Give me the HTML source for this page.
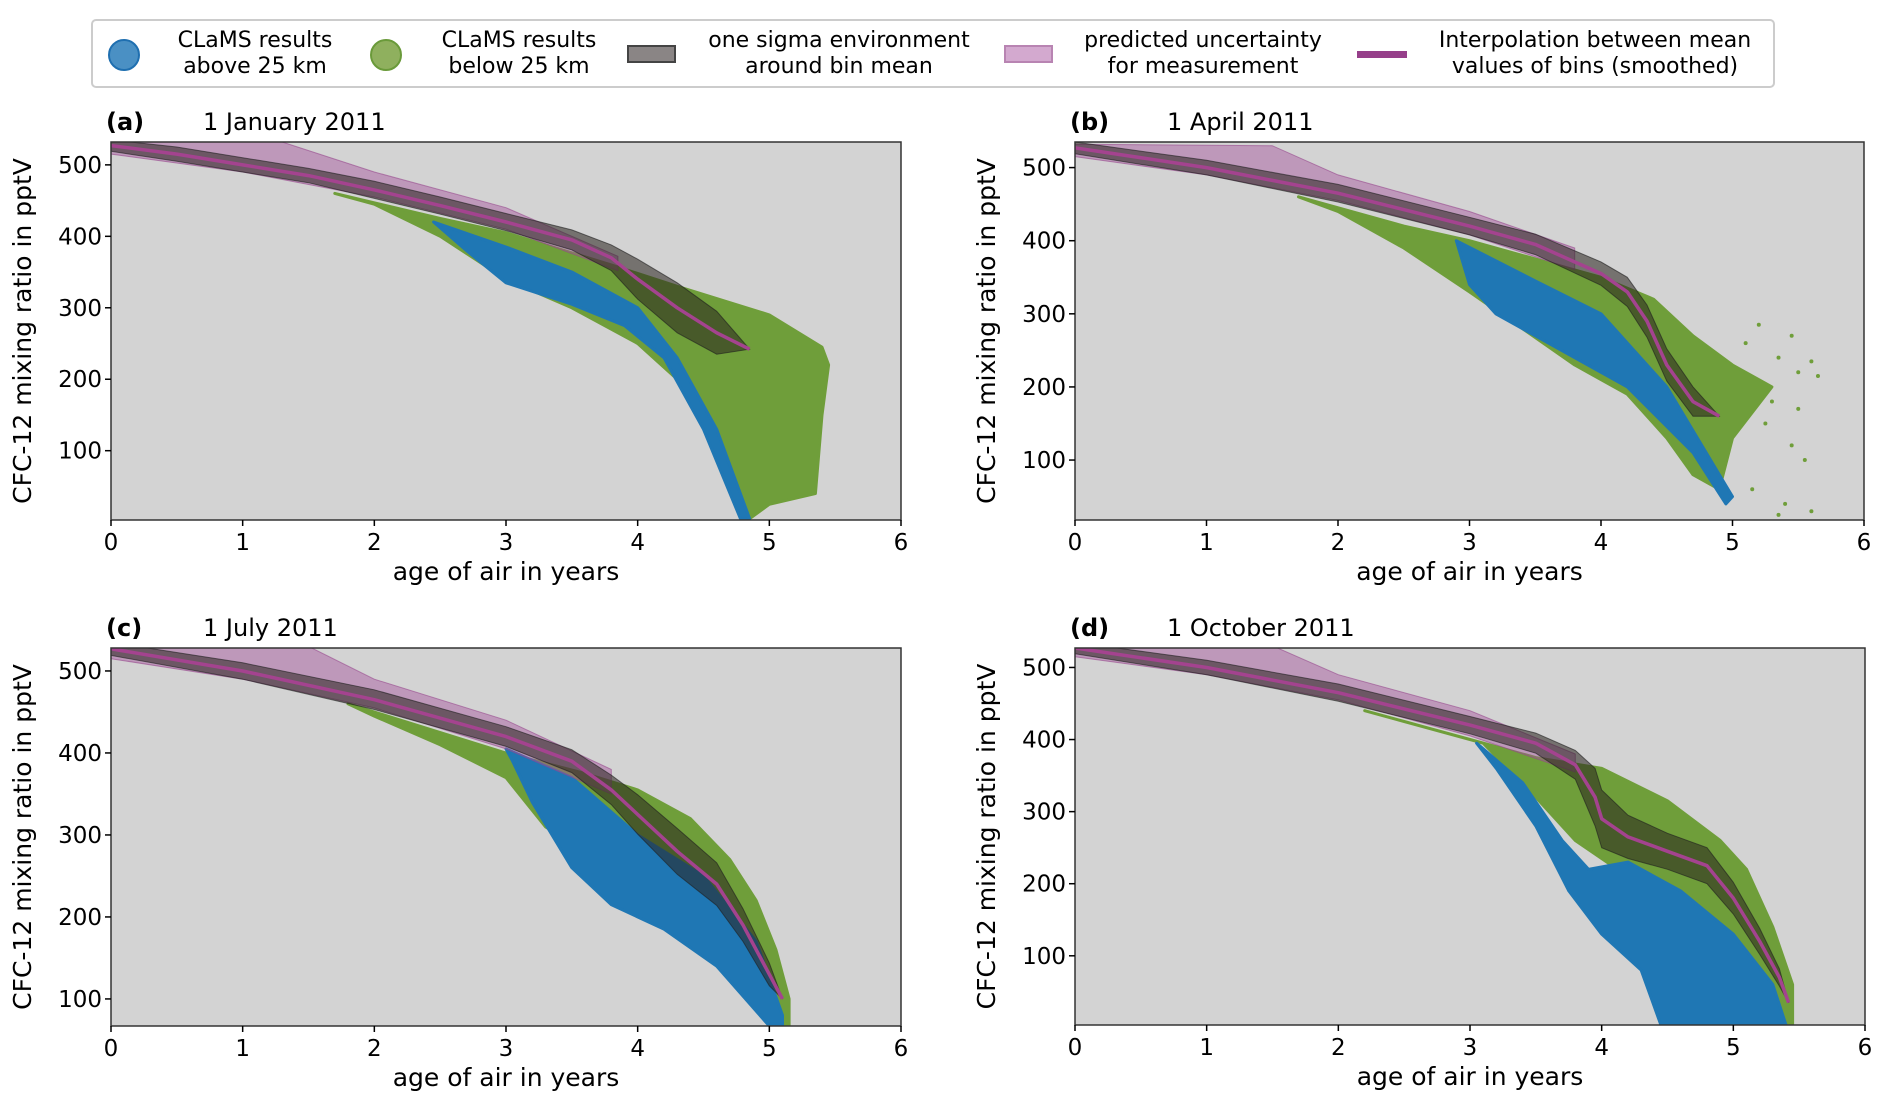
<!DOCTYPE html>
<html><head><meta charset="utf-8"><style>
html,body{margin:0;padding:0;background:#fff;}
svg{display:block;font-family:"DejaVu Sans","Liberation Sans",sans-serif;}
</style></head><body>
<svg id="fig" width="1892" height="1110" viewBox="0 0 1892 1110">
<g>
<rect x="92" y="20" width="1682" height="67" rx="4" fill="#fff" stroke="#ccc" stroke-width="2"/>
<g><circle cx="124" cy="55" r="15" fill="#4a90c4" stroke="#1f6fb0" stroke-width="2"/><text x="255" y="47" font-size="22" text-anchor="middle">CLaMS results</text><text x="255" y="73" font-size="22" text-anchor="middle">above 25 km</text></g>
<g><circle cx="386" cy="55" r="15" fill="#8fb05e" stroke="#6a9a3a" stroke-width="2"/><text x="519" y="47" font-size="22" text-anchor="middle">CLaMS results</text><text x="519" y="73" font-size="22" text-anchor="middle">below 25 km</text></g>
<g><rect x="628" y="46" width="47" height="16" fill="#8a8585" stroke="#444" stroke-width="2"/><text x="839" y="47" font-size="22" text-anchor="middle">one sigma environment</text><text x="839" y="73" font-size="22" text-anchor="middle">around bin mean</text></g>
<g><rect x="1005" y="46" width="47" height="16" fill="#d3a9cf" stroke="#b884b2" stroke-width="2"/><text x="1203" y="47" font-size="22" text-anchor="middle">predicted uncertainty</text><text x="1203" y="73" font-size="22" text-anchor="middle">for measurement</text></g>
<g><rect x="1357" y="51" width="50" height="7" fill="#963f8a"/><text x="1595" y="47" font-size="22" text-anchor="middle">Interpolation between mean</text><text x="1595" y="73" font-size="22" text-anchor="middle">values of bins (smoothed)</text></g>
</g>
</svg>
<script>
// ----- Panel (a) data -----
const aMeanAge=[0,0.5,1,1.5,2,2.5,3,3.5,3.8,4.0,4.3,4.6,4.85];
const aMeanVal=[527,515,500,485,465,443,420,395,370,340,300,265,242];
const aSigma=[8,10,10,10,12,12,12,14,18,28,35,30,0];
const aUncUpAge=[0,1.3,2,3,3.85];const aUncUpVal=[532,532,490,440,372];
const aUncLoAge=[0,1,2,3,3.85];const aUncLoVal=[515,490,455,410,352];
const aGreenAge=[1.7,2.5,3,3.8,4.3,5.0,5.4,5.45,5.4,5.35,5.0,4.85,4.8,4.6,4.3,4.0,3.5,3,2.5,2];
const aGreenVal=[460,425,405,360,330,290,245,220,150,40,25,5,5,100,200,250,300,340,400,445];
const aBlueAge=[2.45,3.0,3.5,4.0,4.3,4.6,4.85,4.78,4.5,4.2,3.9,3.5,3.0,2.7];
const aBlueVal=[420,385,350,300,230,130,5,5,130,230,275,305,335,380];
// ----- Panel (b) data -----
const bMeanAge=[0,1,2,3,3.5,4,4.2,4.35,4.5,4.7,4.9];
const bMeanVal=[527,500,465,420,395,355,330,290,230,180,160];
const bSigma=[8,10,12,12,14,16,20,22,22,20,0];
const bUncUpAge=[0,1.5,2,3,3.8];const bUncUpVal=[532,530,490,440,390];
const bUncLoAge=[0,1,2,3,3.8];const bUncLoVal=[515,490,455,408,360];
const bGreenAge=[1.7,2.5,3,3.5,4,4.4,4.7,5.0,5.3,5.0,4.9,4.7,4.5,4.2,3.8,3.4,3.0,2.5,2.0];
const bGreenVal=[460,420,400,375,350,320,270,230,200,130,60,80,130,190,230,280,330,390,440];
const bBlueAge=[2.9,3.5,4.0,4.5,4.9,5.0,4.95,4.7,4.2,3.6,3.2,3.0];
const bBlueVal=[400,345,300,200,80,50,40,110,200,260,300,340];
const bDotAge=[5.1,5.2,5.35,5.45,5.5,5.6,5.65,5.3,5.25,5.45,5.55,5.15,5.4,5.6,5.35,5.5];
const bDotVal=[260,285,240,270,220,235,215,180,150,120,100,60,40,30,25,170];
// ----- Panel (c) data -----
const cMeanAge=[0,1,2,3,3.5,3.8,4.0,4.3,4.6,4.8,5.0,5.1];
const cMeanVal=[527,500,465,420,390,355,325,280,240,190,130,100];
const cSigma=[8,10,12,12,14,18,24,28,26,20,14,0];
const cUncUpAge=[0,1.5,2,3,3.8];const cUncUpVal=[532,530,490,440,380];
const cUncLoAge=[0,1,2,3,3.8];const cUncLoVal=[515,490,455,405,350];
const cGreenAge=[1.8,2.5,3,3.6,4.0,4.4,4.7,4.9,5.05,5.15,5.15,5.0,4.9,4.6,4.2,3.8,3.3,3.0,2.5,2.0];
const cGreenVal=[460,425,400,375,355,320,270,220,160,100,67,67,110,180,230,260,310,370,410,445];
const cBlueAge=[3.0,3.5,4.0,4.5,4.9,5.1,5.1,5.0,4.6,4.2,3.8,3.5,3.2,3.05];
const cBlueVal=[405,370,300,250,170,80,67,67,140,185,215,260,340,390];
// ----- Panel (d) data -----
const dMeanAge=[0,1,2,3,3.5,3.8,3.95,4.0,4.2,4.5,4.8,5.0,5.2,5.35,5.42];
const dMeanVal=[527,500,465,420,395,365,320,290,265,245,225,180,120,70,35];
const dSigma=[8,10,12,12,14,20,40,40,30,25,25,22,18,12,0];
const dUncUpAge=[0,1.5,2,3,3.8];const dUncUpVal=[532,530,490,440,380];
const dUncLoAge=[0,1,2,3,3.8];const dUncLoVal=[515,490,455,405,355];
const dGreenAge=[2.2,2.7,3.0,3.5,4.0,4.5,4.9,5.1,5.3,5.45,5.45,5.2,5.0,4.6,4.2,3.8,3.5,3.1,2.5];
const dGreenVal=[440,415,400,375,360,315,260,220,140,60,4,4,60,150,210,260,320,395,425];
const dBlueAge=[3.05,3.4,3.7,3.9,4.2,4.6,5.0,5.3,5.4,4.45,4.3,4.0,3.75,3.5,3.2];
const dBlueVal=[395,340,260,220,230,190,130,60,4,4,80,130,190,280,360];
// ----- ticks -----
const xTicks=[0,1,2,3,4,5,6];
const yTicks=[100,200,300,400,500];

const svg=document.getElementById('fig');
const NS='http://www.w3.org/2000/svg';
function mk(tag,attrs,parent){const e=document.createElementNS(NS,tag);for(const k in attrs)e.setAttribute(k,attrs[k]);parent.appendChild(e);return e;}

const panels=[
 {id:'a',label:'(a)',title:'1 January 2011',L:111,R:901,T:142,B:520,y0:3,y1:532,mA:aMeanAge,mV:aMeanVal,s:aSigma,uuA:aUncUpAge,uuV:aUncUpVal,ulA:aUncLoAge,ulV:aUncLoVal,gA:aGreenAge,gV:aGreenVal,bA:aBlueAge,bV:aBlueVal},
 {id:'b',label:'(b)',title:'1 April 2011',L:1075,R:1864,T:142,B:520,y0:18,y1:535,mA:bMeanAge,mV:bMeanVal,s:bSigma,uuA:bUncUpAge,uuV:bUncUpVal,ulA:bUncLoAge,ulV:bUncLoVal,gA:bGreenAge,gV:bGreenVal,bA:bBlueAge,bV:bBlueVal,dA:bDotAge,dV:bDotVal},
 {id:'c',label:'(c)',title:'1 July 2011',L:111,R:901,T:648,B:1026,y0:67,y1:528,mA:cMeanAge,mV:cMeanVal,s:cSigma,uuA:cUncUpAge,uuV:cUncUpVal,ulA:cUncLoAge,ulV:cUncLoVal,gA:cGreenAge,gV:cGreenVal,bA:cBlueAge,bV:cBlueVal},
 {id:'d',label:'(d)',title:'1 October 2011',L:1075,R:1865,T:648,B:1025,y0:4,y1:527,mA:dMeanAge,mV:dMeanVal,s:dSigma,uuA:dUncUpAge,uuV:dUncUpVal,ulA:dUncLoAge,ulV:dUncLoVal,gA:dGreenAge,gV:dGreenVal,bA:dBlueAge,bV:dBlueVal}
];

panels.forEach(p=>{
 const xs=v=>p.L+(v-0)/(6-0)*(p.R-p.L);
 const ys=v=>p.B-(v-p.y0)/(p.y1-p.y0)*(p.B-p.T);
 const g=mk('g',{},svg);
 
 
 const clipId='clip'+p.id;
 const cp=mk('clipPath',{id:clipId},g);
 mk('rect',{x:p.L,y:p.T,width:p.R-p.L,height:p.B-p.T},cp);
 const bg=mk('rect',{x:p.L,y:p.T,width:p.R-p.L,height:p.B-p.T,fill:'#d3d3d3'},g);
 
 
 const pg=mk('g',{'clip-path':'url(#'+clipId+')'},g);
 const poly=(A,V)=>A.map((a,i)=>xs(a).toFixed(1)+','+ys(V[i]).toFixed(1)).join(' ');
 const green=mk('polygon',{points:poly(p.gA,p.gV),fill:'#6f9e3a',stroke:'#6f9e3a','stroke-width':3,'stroke-linejoin':'round'},pg);
 
 
 if(p.dA){p.dA.forEach((a,i)=>{const c=mk('circle',{cx:xs(a),cy:ys(p.dV[i]),r:2,fill:'#6f9e3a'},pg);
  
  });}
 const blue=mk('polygon',{points:poly(p.bA,p.bV),fill:'#1f77b4',stroke:'#1f77b4','stroke-width':3,'stroke-linejoin':'round'},pg);
 
 
 const unc=mk('polygon',{points:poly(p.uuA.concat(p.ulA.slice().reverse()),p.uuV.concat(p.ulV.slice().reverse())),fill:'rgba(165,80,155,0.45)',stroke:'rgba(150,70,140,0.6)','stroke-width':1},pg);
 
 
 const up=p.mV.map((v,i)=>v+p.s[i]), lo=p.mV.map((v,i)=>v-p.s[i]);
 const sig=mk('polygon',{points:poly(p.mA.concat(p.mA.slice().reverse()),up.concat(lo.slice().reverse())),fill:'rgba(40,35,30,0.55)',stroke:'rgba(30,30,30,0.6)','stroke-width':1},pg);
 
 
 const line=mk('polyline',{points:poly(p.mA,p.mV),fill:'none',stroke:'#a4438f','stroke-width':3.5,'stroke-linejoin':'round'},pg);
 
 
 const fr=mk('rect',{x:p.L,y:p.T,width:p.R-p.L,height:p.B-p.T,fill:'none',stroke:'#333','stroke-width':1.5},g);
 
 
 xTicks.forEach(t=>{mk('line',{x1:xs(t),x2:xs(t),y1:p.B,y2:p.B+6,stroke:'#000','stroke-width':1.5},g);
  const tx=mk('text',{x:xs(t),y:p.B+30,'font-size':23,'text-anchor':'middle'},g);tx.textContent=t;
  
  });
 yTicks.forEach(t=>{if(t<p.y0||t>p.y1)return;mk('line',{x1:p.L-6,x2:p.L,y1:ys(t),y2:ys(t),stroke:'#000','stroke-width':1.5},g);
  const tx=mk('text',{x:p.L-9,y:ys(t)+8,'font-size':23,'text-anchor':'end'},g);tx.textContent=t;
  
  });
 const xl=mk('text',{x:(p.L+p.R)/2,y:p.B+60,'font-size':25,'text-anchor':'middle'},g);xl.textContent='age of air in years';
 
 
 const yx=p.L-80,yy=(p.T+p.B)/2;
 const yl=mk('text',{x:yx,y:yy,'font-size':25,'text-anchor':'middle',transform:'rotate(-90 '+yx+' '+yy+')'},g);yl.textContent='CFC-12 mixing ratio in pptV';
 
 
 const lb=mk('text',{x:p.L-5,y:p.T-12,'font-size':24,'font-weight':'bold'},g);lb.textContent=p.label;
 
 
 const tt=mk('text',{x:p.L+92,y:p.T-12,'font-size':24},g);tt.textContent=p.title;
 
 
});
</script>
</body></html>
